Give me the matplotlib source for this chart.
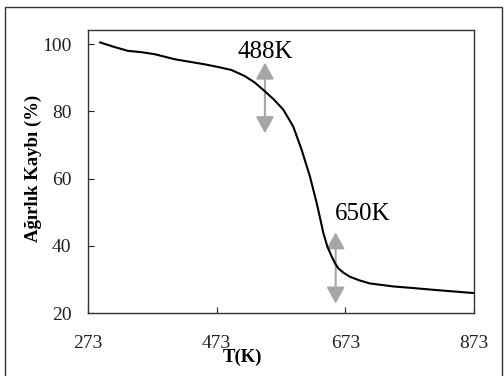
import matplotlib
matplotlib.use("Agg")
import matplotlib.pyplot as plt
from matplotlib.patches import FancyArrowPatch, Rectangle

plt.rcParams['font.family'] = ['Liberation Serif', 'DejaVu Serif']

# TGA curve
temp = [292, 313, 335, 356, 376.7, 407.7, 454, 475, 496, 516.6, 532, 547.7,
        562, 576.6, 592, 605, 618, 628.5, 634, 638.8, 645, 651.8, 657, 662,
        670, 680, 695, 711, 747.6, 780, 809.8, 874.5]
weight = [100.5, 99.2, 98.0, 97.6, 97.0, 95.5, 94.0, 93.2, 92.3, 90.5, 88.6, 86.0,
          83.5, 80.5, 75.5, 68.6, 60.6, 52.7, 48.0, 43.8, 39.8, 36.8, 34.8, 33.3,
          32.0, 30.8, 29.7, 28.8, 27.9, 27.4, 26.9, 25.9]

x_ticks = [273, 473, 673, 873]
y_ticks = [20, 40, 60, 80, 100]

# annotations: (label, arrow x, arrow top, arrow bottom, text x, text y)
marks = [("488K", 548, 94.5, 73.5, 548, 97.8),
         ("650K", 658, 44.0, 22.8, 700, 49.6)]

fig = plt.figure(figsize=(5.04, 3.76), dpi=100)
fig.patches.append(Rectangle((5 / 504, -0.05), 497 / 504, 1.05 - 7 / 376,
                             transform=fig.transFigure, fill=False,
                             edgecolor='#333333', lw=1.0))

ax = fig.add_axes([88 / 504, 63 / 376, 386 / 504, 283 / 376])
ax.plot(temp, weight, color='black', lw=1.5, solid_joinstyle='round')

for label, ax_x, y_top, y_bot, tx, ty in marks:
    arr = FancyArrowPatch((ax_x, y_bot), (ax_x, y_top),
                          arrowstyle='<|-|>,head_length=10,head_width=5.5',
                          mutation_scale=1, color='#a6a6a6', lw=1.5,
                          shrinkA=0, shrinkB=0)
    ax.add_patch(arr)
    ax.text(tx, ty, label, fontsize=18, ha='center', va='center')

ax.set_xlim(273, 873)
ax.set_ylim(20, 104.2)
ax.set_xticks(x_ticks)
ax.set_yticks(y_ticks)
ax.tick_params(direction='in', length=4.5, labelsize=14, colors='#222222')
ax.tick_params(axis='x', pad=16)
ax.tick_params(axis='y', pad=12)
for s in ax.spines.values():
    s.set_color('#333333')
    s.set_linewidth(1.0)

ax.set_xlabel('T(K)', fontsize=13.5, fontweight='bold')
ax.xaxis.set_label_coords(0.40, -0.125)
ax.set_ylabel('Ağırlık Kaybı (%)', fontsize=13.5, fontweight='bold')
ax.yaxis.set_label_coords(-0.12, 0.512)

fig.savefig('out.png', dpi=100)
